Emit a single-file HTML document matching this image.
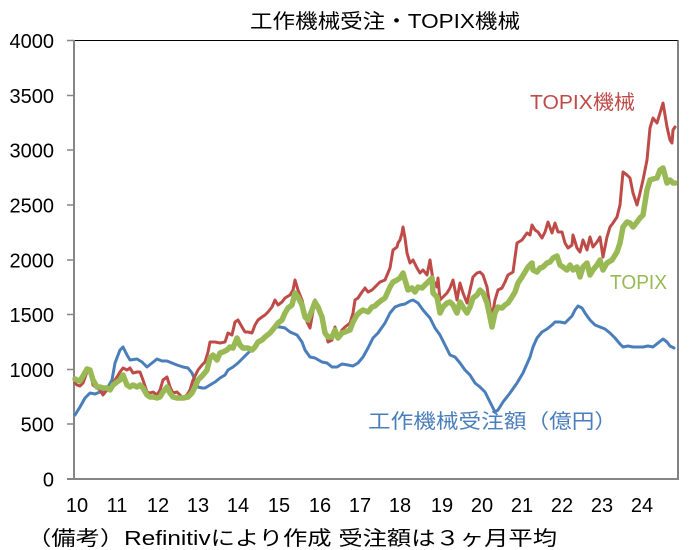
<!DOCTYPE html>
<html><head><meta charset="utf-8"><style>
html,body{margin:0;padding:0;background:#fff;}
svg{display:block;}
text{font-family:"Liberation Sans","Noto Sans CJK JP",sans-serif;}
</style></head><body>
<svg width="689" height="550" viewBox="0 0 689 550" xmlns="http://www.w3.org/2000/svg">
<rect width="689" height="550" fill="#fff"/>
<!-- title -->
<text x="250" y="28" font-size="20" fill="#000" textLength="270" lengthAdjust="spacingAndGlyphs">工作機械受注・TOPIX機械</text>
<!-- frame -->
<line x1="74" y1="40.5" x2="678" y2="40.5" stroke="#000" stroke-width="1"/>
<line x1="678" y1="40" x2="678" y2="480" stroke="#595959" stroke-width="1.5"/>
<line x1="74" y1="40" x2="74" y2="480" stroke="#868686" stroke-width="2"/>
<line x1="67" y1="479" x2="678" y2="479" stroke="#868686" stroke-width="2"/>
<g stroke="#868686" stroke-width="1.5">
<line x1="67" y1="40.5" x2="74" y2="40.5"/>
<line x1="67" y1="95.5" x2="74" y2="95.5"/>
<line x1="67" y1="150" x2="74" y2="150"/>
<line x1="67" y1="205" x2="74" y2="205"/>
<line x1="67" y1="260" x2="74" y2="260"/>
<line x1="67" y1="314.5" x2="74" y2="314.5"/>
<line x1="67" y1="369.5" x2="74" y2="369.5"/>
<line x1="67" y1="424" x2="74" y2="424"/>
</g>
<!-- y labels -->
<g font-size="20" fill="#000" text-anchor="end">
<text x="54" y="48">4000</text>
<text x="54" y="103">3500</text>
<text x="54" y="157.5">3000</text>
<text x="54" y="212.5">2500</text>
<text x="54" y="267.5">2000</text>
<text x="54" y="322">1500</text>
<text x="54" y="377">1000</text>
<text x="54" y="431.5">500</text>
<text x="54" y="486.5">0</text>
</g>
<!-- x labels -->
<g font-size="20" fill="#000" text-anchor="middle">
<text x="77" y="512">10</text>
<text x="117" y="512">11</text>
<text x="158" y="512">12</text>
<text x="198" y="512">13</text>
<text x="238" y="512">14</text>
<text x="279" y="512">15</text>
<text x="320" y="512">16</text>
<text x="360" y="512">17</text>
<text x="400" y="512">18</text>
<text x="442" y="512">19</text>
<text x="482" y="512">20</text>
<text x="522" y="512">21</text>
<text x="562" y="512">22</text>
<text x="602" y="512">23</text>
<text x="642" y="512">24</text>
</g>
<!-- footnote -->
<text x="27" y="545" font-size="20" fill="#000" textLength="530" lengthAdjust="spacingAndGlyphs">（備考）Refinitivにより作成 受注額は３ヶ月平均</text>
<!-- series -->
<g fill="none" stroke-linejoin="round" stroke-linecap="round">
<polyline stroke="#4A7EBB" stroke-width="3" points="75,415 80,407 85,398 90,393 95,394 100,392 105,390 108,387 112,380 115,363 120,350 123,347 127,355 130,360 137,359 142,362 147,367 152,363 157,359 162,361 167,361 172,363 177,365 183,367 188,368 192,373 195,380 198,387 202,388 205,388 210,385 215,382 220,378 225,375 228,370 233,367 238,363 243,358 248,353 253,348 258,343 263,338 270,332 275,327 280,327 285,328 290,332 297,335 302,342 305,350 310,357 315,358 322,362 327,363 332,367 337,367 342,364 348,365 353,366 358,363 363,357 368,348 373,338 378,333 385,323 390,313 395,307 400,305 405,304 410,301 413,300 418,303 423,310 430,318 435,328 440,335 445,345 450,355 455,357 460,363 465,370 470,375 475,383 480,387 485,392 490,402 495,412 498,410 503,402 510,393 517,383 523,373 530,357 533,347 537,338 542,332 547,329 552,325 555,322 560,322 565,323 568,320 572,316 575,310 578,306 582,308 585,313 590,320 595,325 600,327 605,329 610,333 615,338 620,344 623,347 628,346 633,347 638,347 643,347 648,346 653,347 658,343 663,339 667,342 670,346 674,348"/>
<polyline stroke="#BE4B48" stroke-width="3" points="75,383 77,385 80,386 83,383 87,372 90,370 93,385 97,388 100,390 103,395 107,390 110,388 113,383 117,377 120,372 123,368 127,370 130,368 133,373 137,372 140,372 143,380 147,392 150,393 153,392 157,395 160,390 163,380 167,377 170,387 173,393 177,392 180,395 183,398 187,395 190,390 193,380 198,370 202,365 205,362 208,352 210,342 215,342 220,343 225,342 228,333 232,335 235,322 238,320 242,327 245,332 248,332 252,333 255,325 258,320 262,317 265,315 268,312 272,307 275,300 278,305 282,302 285,298 290,295 293,290 295,280 298,290 302,300 307,322 310,328 315,300 318,310 322,317 325,327 328,342 332,340 335,327 338,338 342,330 345,327 350,323 353,313 355,300 358,298 362,292 365,288 368,292 372,290 375,287 380,282 385,280 390,268 393,250 397,247 398,243 400,240 402,233 403,227 405,238 407,253 410,263 413,260 417,268 420,273 423,270 427,275 430,260 433,280 437,287 438,278 440,300 443,297 447,293 450,288 453,280 457,300 460,283 463,293 467,303 470,290 473,277 477,273 480,272 483,275 487,287 490,307 492,317 495,300 498,290 502,288 505,282 508,275 513,272 517,243 522,240 527,233 530,235 532,225 535,230 538,232 542,238 545,232 548,222 552,233 555,223 558,232 562,232 565,243 568,248 572,245 573,235 577,248 580,252 583,240 587,250 590,237 593,247 597,242 600,237 603,257 607,237 610,227 613,223 617,217 620,205 623,172 627,175 630,178 633,193 637,205 640,193 643,180 647,160 650,128 653,118 657,123 660,113 663,103 667,127 670,140 672,143 673,130 675,127"/>
<polyline stroke="#98B954" stroke-width="5.5" points="75,379 77,380 80,381 83,376 87,369 90,370 93,380 97,387 100,387 103,388 107,388 110,390 113,385 117,382 120,380 123,375 127,385 130,387 133,385 137,387 140,385 143,388 147,395 150,397 153,397 157,398 160,397 163,392 167,387 170,393 173,397 177,398 183,398 188,397 192,393 195,387 198,380 203,375 207,370 210,358 213,355 217,360 220,353 223,352 227,350 230,347 233,348 237,338 240,345 243,348 248,348 252,350 255,347 258,342 262,340 265,337 270,333 275,327 278,323 282,320 285,313 288,308 292,305 295,293 298,297 302,305 305,317 308,320 312,310 315,302 318,307 322,317 325,333 328,337 332,337 335,330 338,338 342,333 345,332 350,330 353,322 357,315 360,312 363,310 368,312 372,307 375,306 378,303 382,300 385,298 390,287 393,282 397,280 400,278 403,273 405,280 408,290 412,288 415,292 418,287 422,288 425,285 428,282 432,278 433,293 437,297 440,313 443,307 447,303 450,302 453,305 457,313 460,302 463,307 467,313 470,307 473,298 477,295 480,290 483,293 487,303 490,317 492,327 495,313 498,307 502,308 505,305 508,303 512,297 515,292 518,283 522,277 525,272 528,267 532,263 533,270 537,272 540,268 543,267 547,263 550,262 553,258 557,256 560,265 563,267 567,270 570,265 573,270 577,267 580,277 583,267 587,263 590,275 593,270 597,265 600,260 603,270 607,263 612,260 617,252 620,243 623,227 627,222 630,223 633,227 637,222 640,218 643,215 647,190 650,180 653,179 657,178 660,170 663,168 667,183 670,180 673,183 675,183"/>
</g>
<!-- series labels -->
<text x="530" y="109" font-size="20" fill="#BE4B48" textLength="105" lengthAdjust="spacingAndGlyphs">TOPIX機械</text>
<text x="610" y="289" font-size="20" fill="#98B954" textLength="57" lengthAdjust="spacingAndGlyphs">TOPIX</text>
<text x="368" y="428" font-size="20" fill="#4A7EBB" textLength="249" lengthAdjust="spacingAndGlyphs">工作機械受注額（億円）</text>
</svg>
</body></html>
